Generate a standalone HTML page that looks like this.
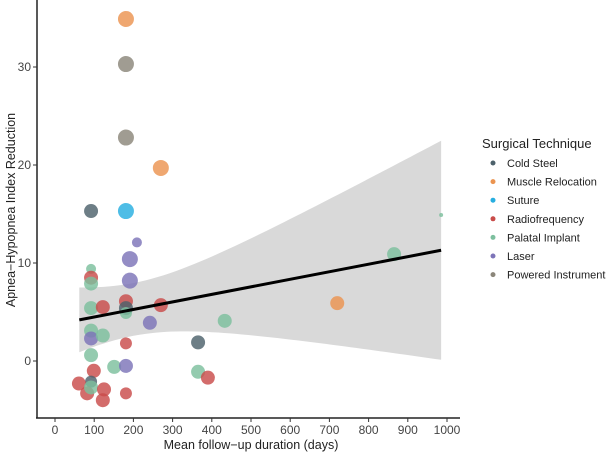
<!DOCTYPE html>
<html><head><meta charset="utf-8"><style>
body{margin:0;background:#fff;}
svg{display:block;font-family:"Liberation Sans",sans-serif;}
</style></head><body>
<svg id="chart" width="608" height="453">
<g id="band-g"></g><g id="pts"></g><g id="line-g"></g><g id="axes"></g><g id="legend"></g>
</svg>
<script>
const techniques=["Cold Steel","Muscle Relocation","Suture","Radiofrequency","Palatal Implant","Laser","Powered Instrument"];
const colors=["#4d616b","#eb9450","#27aee0","#c94c4a","#7dbf9e","#7d74b8","#8b867a"];
const ptDays=[181,181,181,270,92,181,209,191,191,92,92,92,92,122,181,181,181,270,242,433,92,92,122,181,365,92,151,181,99,365,390,92,61,82,92,125,122,181,865,720,985];
const ptVals=[34.9,30.3,22.8,19.7,15.3,15.3,12.1,10.4,8.2,9.4,8.5,7.9,5.4,5.5,6.1,5.4,4.9,5.7,3.9,4.1,3.1,2.3,2.6,1.8,1.9,0.6,-0.6,-0.5,-1.0,-1.1,-1.7,-2.1,-2.3,-3.3,-2.7,-2.9,-4.0,-3.3,10.9,5.9,14.9];
const ptTech=[1,6,6,1,0,2,5,5,5,4,3,4,4,3,3,0,4,3,5,4,4,5,4,3,0,4,4,5,3,4,3,0,3,3,4,3,3,3,4,1,4];
const ptSize=[8,8,8,8,7,8,5,8,8,5,7,7,7,7,7,7,6,7,7,7,7,7,7,6,7,7,7,7,7,7,7,6,7,7,7,7,7,6,7,7,2];
const fitX=[62,985];const fitY=[4.2,11.3];
const bandCenter=[200];const bandA=[7.26];const bandB=[1.91e-4];
const xTicks=[0,100,200,300,400,500,600,700,800,900,1000];
const yTicks=[0,10,20,30];
const X=d=>55+d*0.392, Y=v=>361-v*9.8;
const NS="http://www.w3.org/2000/svg";
function mk(t,a,p){const e=document.createElementNS(NS,t);for(const k in a)e.setAttribute(k,a[k]);p.appendChild(e);return e;}
const slope=(fitY[1]-fitY[0])/(fitX[1]-fitX[0]);
const fit=d=>fitY[0]+slope*(d-fitX[0]);
const hw=d=>Math.sqrt(bandA[0]+bandB[0]*(d-bandCenter[0])**2);
const bandTop=[],bandBot=[];
for(let i=0;i<=60;i++){const d=fitX[0]+(fitX[1]-fitX[0])*i/60;bandTop.push(X(d)+","+Y(fit(d)+hw(d)));bandBot.unshift(X(d)+","+Y(fit(d)-hw(d)));}
const band=mk("polygon",{points:bandTop.concat(bandBot).join(" "),fill:"#d9d9d9"},document.getElementById("band-g"));


const pg=document.getElementById("pts");
ptDays.forEach((d,i)=>{const c=mk("circle",{cx:X(d),cy:Y(ptVals[i]),r:ptSize[i],fill:colors[ptTech[i]],"fill-opacity":0.82},pg);

});
const ln=mk("line",{x1:X(fitX[0]),y1:Y(fitY[0]),x2:X(fitX[1]),y2:Y(fitY[1]),stroke:"#000","stroke-width":3},document.getElementById("line-g"));


const ax=document.getElementById("axes");
const ya=mk("line",{x1:37,y1:0,x2:37,y2:418,stroke:"#222","stroke-width":1.5},ax);


const xa=mk("line",{x1:36,y1:418,x2:460,y2:418,stroke:"#222","stroke-width":1.5},ax);


xTicks.forEach(t=>{mk("line",{x1:X(t),y1:418,x2:X(t),y2:422,stroke:"#333"},ax);
const tx=mk("text",{x:X(t),y:434,"text-anchor":"middle","font-size":12,fill:"#444"},ax);tx.textContent=t;

});
yTicks.forEach(t=>{mk("line",{x1:33,y1:Y(t),x2:37,y2:Y(t),stroke:"#333"},ax);
const tx=mk("text",{x:31,y:Y(t)+4,"text-anchor":"end","font-size":12,fill:"#444"},ax);tx.textContent=t;

});
const xt=mk("text",{x:251,y:449,"text-anchor":"middle","font-size":12.5,fill:"#222"},ax);xt.textContent="Mean follow\u2212up duration (days)";


const yt=mk("text",{x:0,y:0,"text-anchor":"middle","font-size":12.5,fill:"#222",transform:"translate(15,210) rotate(-90)"},ax);yt.textContent="Apnea\u2212Hypopnea Index Reduction";


const lg=document.getElementById("legend");
const lt=mk("text",{x:482,y:148,"font-size":13,fill:"#222"},lg);lt.textContent="Surgical Technique";


techniques.forEach((t,i)=>{const g=mk("g",{},lg);


const yy=163+i*18.6;
mk("circle",{cx:493,cy:yy,r:2.5,fill:colors[i]},g);
const tx=mk("text",{x:507,y:yy+4,"font-size":11,fill:"#222"},g);tx.textContent=t;});
</script>
</body></html>
